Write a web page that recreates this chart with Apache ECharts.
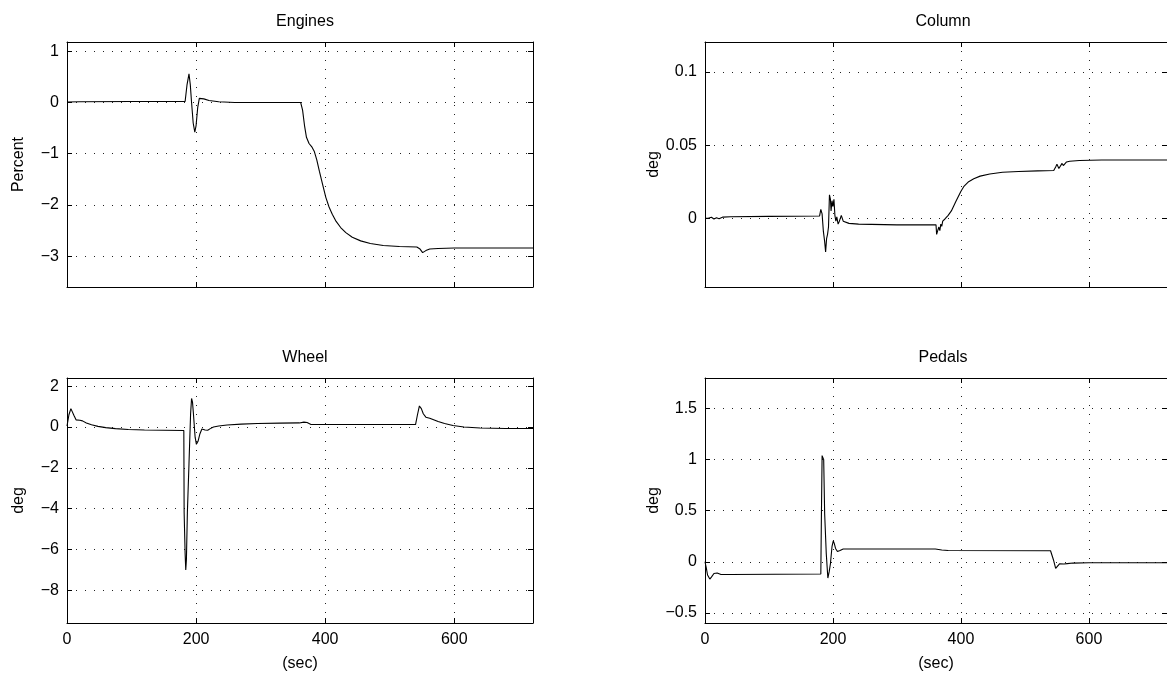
<!DOCTYPE html>
<html>
<head>
<meta charset="utf-8">
<script src="https://cdn.jsdelivr.net/npm/echarts@6/dist/echarts.min.js"></script>
<style>
  html, body { margin: 0; padding: 0; background: #fff; }
  #chart { width: 1167px; height: 682px; }
</style>
</head>
<body>
<div id="chart"></div>
<script>
// time axis (sec) shared by the four panels
var xTicks = [0, 200, 400, 600];

// Engines (Percent)
var engT = [0, 20, 100, 183, 186, 189, 191, 193, 195.5, 198, 200, 202.5, 205, 207, 212, 220, 235, 260, 362, 365, 368, 371, 375, 379, 383, 387, 391, 396, 401, 406, 411, 417, 424, 432, 442, 455, 470, 490, 515, 542, 547, 551, 556, 562, 575, 600, 722];
var engV = [0.01, 0.015, 0.02, 0.02, 0.35, 0.56, 0.35, 0.0, -0.4, -0.58, -0.45, -0.1, 0.08, 0.10, 0.07, 0.04, 0.015, 0.0, 0.0, -0.15, -0.45, -0.68, -0.8, -0.86, -0.95, -1.12, -1.34, -1.6, -1.85, -2.04, -2.18, -2.32, -2.44, -2.54, -2.63, -2.7, -2.75, -2.79, -2.81, -2.82, -2.86, -2.93, -2.89, -2.86, -2.85, -2.84, -2.84];
var engTicks = [-3, -2, -1, 0, 1];

// Column (deg)
var colT = [0, 5, 10, 14, 18, 22, 28, 40, 100, 179, 181, 183, 185, 187, 188.5, 190, 191.5, 193, 194.5, 196, 197, 198.5, 200, 201.5, 203, 204.5, 206, 208, 210, 213, 216, 219, 225, 240, 300, 361, 362, 364, 365.5, 367, 368.5, 370, 371.5, 373, 375, 377, 380, 385, 392, 400, 405, 412, 420, 430, 445, 465, 490, 520, 545, 548, 550, 553, 555, 558, 560, 562, 565, 570, 585, 620, 722];
var colV = [0.0, 0.0, 0.0007, -0.0005, 0.0003, -0.0003, 0.0008, 0.001, 0.0013, 0.0015, 0.006, 0.003, -0.009, -0.016, -0.023, -0.014, -0.011, -0.006, 0.016, 0.013, 0.005, 0.012, 0.008, 0.013, 0.002, -0.002, 0.001, -0.004, -0.002, 0.002, -0.002, -0.003, -0.0035, -0.004, -0.0045, -0.0045, -0.011, -0.008, -0.006, -0.0085, -0.004, -0.0055, -0.002, -0.003, -0.0005, -0.0005, 0.002, 0.005, 0.0115, 0.0185, 0.022, 0.025, 0.027, 0.0288, 0.0303, 0.0314, 0.032, 0.0324, 0.0326, 0.035, 0.037, 0.034, 0.0335, 0.0375, 0.036, 0.0365, 0.0385, 0.039, 0.0395, 0.0398, 0.0398];
var colTicks = [0, 0.05, 0.1];

// Wheel (deg)
var whlT = [0, 3, 6, 8, 11, 14, 20, 24, 30, 38, 48, 60, 75, 95, 120, 150, 181, 181.5, 183, 184, 185, 186.5, 189, 191.5, 193, 194.5, 196, 198.5, 200.5, 203, 206, 209, 211, 214, 218, 222, 227, 235, 248, 270, 295, 330, 360, 367, 372, 378, 400, 540, 543, 546, 549, 552, 556, 562, 568, 575, 585, 598, 615, 640, 680, 722];
var whlV = [0.05, 0.6, 0.9, 0.85, 0.55, 0.35, 0.33, 0.3, 0.2, 0.11, 0.03, -0.03, -0.08, -0.12, -0.15, -0.16, -0.17, -4.2, -6.2, -7.0, -6.5, -4.2, -1.8, 0.65, 1.4, 1.2, 0.6, -0.5, -0.85, -0.7, -0.33, -0.1, -0.08, -0.15, -0.16, -0.08, 0.0, 0.05, 0.1, 0.14, 0.17, 0.19, 0.2, 0.24, 0.22, 0.12, 0.12, 0.12, 0.6, 1.03, 0.9, 0.65, 0.48, 0.43, 0.36, 0.27, 0.17, 0.07, 0.0, -0.05, -0.07, -0.07];
var whlTicks = [-8, -6, -4, -2, 0, 2];

// Pedals (deg)
var pedT = [0, 2, 4, 7.5, 10, 14, 19, 25, 40, 181, 182, 183, 184.5, 185.5, 187, 189.5, 192, 194, 196, 198.5, 200.5, 202, 204, 207, 211, 216, 230, 360, 370, 380, 540, 542, 544.5, 548, 551, 554, 557, 561, 566, 575, 600, 722];
var pedV = [0.0, -0.06, -0.13, -0.17, -0.15, -0.115, -0.11, -0.125, -0.125, -0.12, 0.5, 1.04, 1.05, 1.0, 0.47, 0.08, -0.16, -0.1, -0.02, 0.15, 0.205, 0.18, 0.13, 0.1, 0.11, 0.125, 0.125, 0.125, 0.115, 0.11, 0.108, 0.1, 0.02, -0.065, -0.05, -0.02, -0.005, -0.022, -0.018, -0.013, -0.01, -0.01];
var pedTicks = [-0.5, 0, 0.5, 1, 1.5];

var FONT = 'Liberation Sans, Arial, Helvetica, sans-serif';
var gridDots = { color: '#222', width: 1, type: [1, 8] };

function pair(t, v) {
  return t.map(function (x, i) { return [x, v[i]]; });
}

// one MATLAB-like panel: boxed axes, inward ticks, dotted grid
var panels = [
  { title: 'Engines', name: 'Percent', t: engT, v: engV, yTicks: engTicks, ymin: -3.6, ymax: 1.18, left: 67, top: 42, xLabels: false },
  { title: 'Column', name: 'deg', t: colT, v: colV, yTicks: colTicks, ymin: -0.047, ymax: 0.1205, left: 705, top: 42, xLabels: false },
  { title: 'Wheel', name: 'deg', t: whlT, v: whlV, yTicks: whlTicks, ymin: -9.6, ymax: 2.4, left: 67, top: 378, xLabels: true },
  { title: 'Pedals', name: 'deg', t: pedT, v: pedV, yTicks: pedTicks, ymin: -0.6, ymax: 1.8, left: 705, top: 378, xLabels: true }
];

var W = 466, H = 245, XMAX = 722;
var option = {
  backgroundColor: '#fff',
  animation: false,
  textStyle: { fontFamily: FONT },
  title: [], grid: [], xAxis: [], yAxis: [], series: []
};

panels.forEach(function (p, i) {
  option.title.push({
    text: p.title, left: p.left + W / 2, top: p.top - 33, textAlign: 'center',
    textStyle: { fontFamily: FONT, fontSize: 16, fontWeight: 'normal', color: '#000' }
  });
  option.grid.push({ left: p.left, top: p.top, width: W, height: H, containLabel: false });
  var line = { show: true, onZero: false, lineStyle: { color: '#000', width: 1 } };
  var tick = { show: true, inside: true, length: 5, lineStyle: { color: '#000' } };
  // bottom x axis (with data)
  option.xAxis.push({
    type: 'value', gridIndex: i, position: 'bottom', min: 0, max: XMAX,
    axisLine: line, axisTick: Object.assign({ customValues: xTicks }, tick),
    axisLabel: { show: p.xLabels, customValues: xTicks, color: '#000', fontSize: 16, fontFamily: FONT, margin: 9 },
    splitLine: { show: true, lineStyle: gridDots },
    name: p.xLabels ? '(sec)' : '', nameLocation: 'middle', nameGap: 33,
    nameTextStyle: { color: '#000', fontSize: 16, fontFamily: FONT }
  });
  // top x axis (box edge)
  option.xAxis.push({
    type: 'value', gridIndex: i, position: 'top', min: 0, max: XMAX,
    axisLine: line, axisTick: Object.assign({ customValues: xTicks }, tick),
    axisLabel: { show: false }, splitLine: { show: false }
  });
  option.yAxis.push({
    type: 'value', gridIndex: i, position: 'left', min: p.ymin, max: p.ymax,
    axisLine: line, axisTick: Object.assign({ customValues: p.yTicks }, tick),
    axisLabel: {
      show: true, customValues: p.yTicks, color: '#000', fontSize: 16, fontFamily: FONT, margin: 8,
      formatter: function (v) { return String(v).replace('-', '\u2212'); }
    },
    splitLine: { show: true, lineStyle: gridDots },
    name: p.name, nameLocation: 'middle', nameRotate: 90, nameGap: 40,
    nameTextStyle: { color: '#000', fontSize: 16, fontFamily: FONT }
  });
  option.yAxis.push({
    type: 'value', gridIndex: i, position: 'right', min: p.ymin, max: p.ymax,
    axisLine: line, axisTick: Object.assign({ customValues: p.yTicks }, tick),
    axisLabel: { show: false }, splitLine: { show: false }
  });
  option.series.push({
    type: 'line', xAxisIndex: i * 2, yAxisIndex: i * 2,
    data: pair(p.t, p.v), showSymbol: false, symbol: 'none',
    lineStyle: { color: '#000', width: 1.1 }, silent: true
  });
});

var chart = echarts.init(document.getElementById('chart'), null, { renderer: 'canvas' });
chart.setOption(option);
</script>
</body>
</html>
